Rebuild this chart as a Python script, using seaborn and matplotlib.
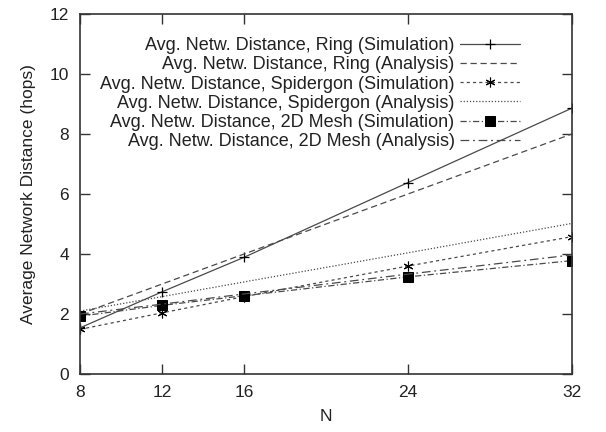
import matplotlib
matplotlib.use("Agg")
import matplotlib.pyplot as plt
import seaborn as sns

N = [8, 12, 16, 24, 32]
ring_sim = [1.54, 2.74, 3.89, 6.38, 8.86]
ring_ana = [2.0, 3.0, 4.0, 6.0, 8.0]
spider_sim = [1.49, 2.04, 2.58, 3.6, 4.58]
spider_ana = [2.1, 2.58, 3.07, 4.04, 5.02]
mesh_sim = [1.93, 2.29, 2.61, 3.24, 3.78]
mesh_ana = [2.0, 2.33, 2.67, 3.33, 3.97]

labels = [
    "Avg. Netw. Distance, Ring (Simulation)",
    "Avg. Netw. Distance, Ring (Analysis)",
    "Avg. Netw. Distance, Spidergon (Simulation)",
    "Avg. Netw. Distance, Spidergon (Analysis)",
    "Avg. Netw. Distance, 2D Mesh (Simulation)",
    "Avg. Netw. Distance, 2D Mesh (Analysis)",
]
xticks = [8, 12, 16, 24, 32]
yticks = [0, 2, 4, 6, 8, 10, 12]

sns.set_theme(style="white")
plt.rcParams["font.family"] = ["Liberation Sans", "DejaVu Sans"]

fig, ax = plt.subplots(figsize=(6.06, 4.32), dpi=100)
fig.subplots_adjust(left=0.132, right=0.944, top=0.968, bottom=0.134)

col = "#4a4a4a"
series = [
    (ring_sim, dict(linestyle="-", marker="+", markersize=7, markeredgewidth=0.9)),
    (ring_ana, dict(linestyle=(0, (5, 3)), marker=None)),
    (spider_sim, dict(linestyle=(0, (2.5, 2.5)), marker=(6, 2, 0), markersize=7, markeredgewidth=0.8)),
    (spider_ana, dict(linestyle=(0, (1, 1.5)), marker=None)),
    (mesh_sim, dict(linestyle=(0, (5, 2, 1, 2)), marker="s", markersize=6.5)),
    (mesh_ana, dict(linestyle=(0, (7, 3, 1.5, 3)), marker=None)),
]
for (vals, kw), lab in zip(series, labels):
    sns.lineplot(x=N, y=vals, ax=ax, color=col, linewidth=0.9, label=lab,
                 markeredgecolor="black", markerfacecolor="black", **kw)

ax.set_xlim(8, 32)
ax.set_ylim(0, 12)
ax.set_xticks(xticks)
ax.set_yticks(yticks)
ax.set_xlabel("N", fontsize=12.5, color="#222222", labelpad=6)
ax.set_ylabel("Average Network Distance (hops)", fontsize=12.5, color="#222222", labelpad=10)
ax.tick_params(direction="in", length=7, width=1, color="#333333", labelsize=12.5,
               labelcolor="#222222", top=True, right=True, bottom=True, left=True, pad=8)
for s in ax.spines.values():
    s.set_color("#333333")
    s.set_linewidth(1.2)

leg = ax.legend(markerfirst=False, frameon=False, loc="upper right",
                bbox_to_anchor=(0.908, 0.955), fontsize=13.0, handlelength=3.3,
                labelspacing=0.12, handletextpad=0.3, borderaxespad=0)
for t in leg.get_texts():
    t.set_color("#222222")

fig.savefig("out.png", dpi=100)
